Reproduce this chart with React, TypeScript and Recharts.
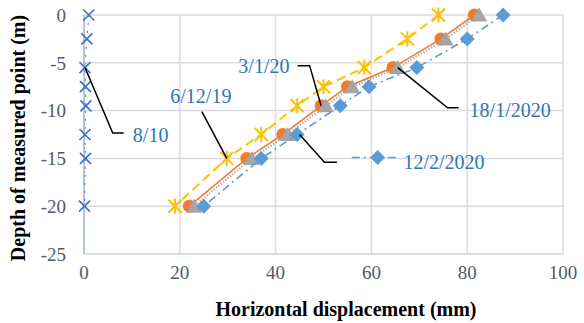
import { ScatterChart, Scatter, XAxis, YAxis, CartesianGrid } from "recharts";

// depth of each measuring point (m)
const depths = [0, -2.5, -5.5, -7.5, -9.5, -12.5, -15, -20];

// horizontal displacement (mm) per survey date
const s0810 = [1, 0.6, 0.2, 0.3, 0.4, 0.2, 0.3, 0.1];
const s061219 = [74, 67.5, 58.5, 50, 44.5, 37, 29.8, 19];
const s030120 = [81.5, 74.5, 64.5, 55, 49.5, 41.5, 34, 22];
const s180120 = [82.5, 75.5, 65.5, 56, 50.5, 42.5, 35, 23];
const s120220 = [87.5, 80, 69.5, 59.5, 53.5, 44.5, 37, 25];

const xTicks = [0, 20, 40, 60, 80, 100];
const yTicks = [0, -5, -10, -15, -20, -25];

// callout labels (data coords) and their leader lines
const labels = [
  { x: 10.2, y: -12.5, text: "8/10", anchor: "start" },
  { x: 24.4, y: -8.5, text: "6/12/19", anchor: "middle" },
  { x: 42.9, y: -5.3, text: "3/1/20", anchor: "end" },
  { x: 80.5, y: -9.9, text: "18/1/2020", anchor: "start" },
  { x: 66.7, y: -15.4, text: "12/2/2020", anchor: "start" },
];
const leaders = [
  [{ x: 0.2, y: -5.5 }, { x: 6.0, y: -12.35 }, { x: 8.3, y: -12.35 }],
  [{ x: 24.6, y: -10.1 }, { x: 29.8, y: -15 }],
  [{ x: 44.6, y: -5.3 }, { x: 47.1, y: -5.3 }, { x: 49.5, y: -9.5 }],
  [{ x: 65.5, y: -5.5 }, { x: 75.9, y: -9.7 }, { x: 78.2, y: -9.7 }],
  [{ x: 45, y: -12.5 }, { x: 50.2, y: -15.4 }, { x: 52.8, y: -15.4 }],
];
// small line+marker sample next to the 12/2/2020 callout
const sample = [
  { x: 55.9, y: -14.9, mark: false },
  { x: 61.3, y: -14.9, mark: true },
  { x: 65.9, y: -14.9, mark: false },
];

const toPoints = (xs: number[]) => depths.map((d, i) => ({ x: xs[i], y: d }));

const FONT = '"Liberation Serif", "Times New Roman", serif';
const TICK = "#505A6E";
const GRID = "#D9DCE3";
const LABEL = "#2E75B6";

const Cross = ({ cx, cy }: any) => (
  <path
    d={`M${cx - 5.5},${cy - 5.5}L${cx + 5.5},${cy + 5.5}M${cx - 5.5},${cy + 5.5}L${cx + 5.5},${cy - 5.5}`}
    stroke="#4472C4"
    strokeWidth={1.7}
  />
);

const Star = ({ cx, cy }: any) => (
  <path
    d={`M${cx - 6.5},${cy - 6.5}L${cx + 6.5},${cy + 6.5}M${cx - 6.5},${cy + 6.5}L${cx + 6.5},${cy - 6.5}M${cx},${cy - 7.5}L${cx},${cy + 7.5}`}
    stroke="#FFC000"
    strokeWidth={2}
  />
);

const Dot = ({ cx, cy }: any) => <circle cx={cx} cy={cy} r={6.5} fill="#ED7D31" />;

const Tri = ({ cx, cy }: any) => (
  <path d={`M${cx},${cy - 7.5}L${cx + 8},${cy + 6.5}L${cx - 8},${cy + 6.5}Z`} fill="#A5A5A5" />
);

const Diamond = ({ cx, cy }: any) => (
  <path d={`M${cx},${cy - 7.5}L${cx + 7.5},${cy}L${cx},${cy + 7.5}L${cx - 7.5},${cy}Z`} fill="#5B9BD5" />
);

const SampleMark = (props: any) =>
  props.payload && props.payload.mark ? <Diamond {...props} /> : <g />;

const Empty = () => <g />;

const LabelText = ({ cx, cy, payload }: any) => (
  <text
    x={cx}
    y={cy}
    textAnchor={payload.anchor}
    dominantBaseline="central"
    fontFamily={FONT}
    fontSize={20}
    fill={LABEL}
  >
    {payload.text}
  </text>
);

const XTitle = () => (
  <text x={346} y={316} textAnchor="middle" fontFamily={FONT} fontSize={20} fontWeight="bold" fill="#000">
    Horizontal displacement (mm)
  </text>
);

const YTitle = () => (
  <text
    x={18}
    y={138}
    transform="rotate(-90 18 138)"
    textAnchor="middle"
    dominantBaseline="central"
    fontFamily={FONT}
    fontSize={20}
    fontWeight="bold"
    fill="#000"
  >
    Depth of measured point (m)
  </text>
);

export default function App() {
  return (
    <div style={{ position: "absolute", left: 0, top: 0, background: "#fff" }}>
      <ScatterChart width={584} height={323} margin={{ top: 15, right: 21, bottom: 0, left: 0 }}>
        <CartesianGrid stroke={GRID} strokeWidth={1.5} />
        <XAxis
          type="number"
          dataKey="x"
          domain={[0, 100]}
          ticks={xTicks}
          height={69}
          axisLine={{ stroke: GRID, strokeWidth: 1.5 }}
          tickLine={false}
          tick={{ fontFamily: FONT, fontSize: 19, fill: TICK }}
          tickMargin={6}
          label={<XTitle />}
        />
        <YAxis
          type="number"
          dataKey="y"
          domain={[-25, 0]}
          ticks={yTicks}
          width={84}
          axisLine={{ stroke: "#A9BAD6", strokeWidth: 1.5 }}
          tickLine={false}
          tick={{ fontFamily: FONT, fontSize: 19, fill: TICK }}
          tickMargin={12}
          label={<YTitle />}
        />
        <Scatter
          name="8/10"
          data={toPoints(s0810)}
          line={{ stroke: "#4472C4", strokeWidth: 1, strokeDasharray: "2 6" }}
          shape={<Cross />}
          isAnimationActive={false}
        />
        <Scatter
          name="6/12/19"
          data={toPoints(s061219)}
          line={{ stroke: "#FFC000", strokeWidth: 2, strokeDasharray: "9 5" }}
          shape={<Star />}
          isAnimationActive={false}
        />
        <Scatter
          name="3/1/20"
          data={toPoints(s030120)}
          line={{ stroke: "#ED7D31", strokeWidth: 1.6 }}
          shape={<Dot />}
          isAnimationActive={false}
        />
        <Scatter
          name="18/1/2020"
          data={toPoints(s180120)}
          line={{ stroke: "#A5A5A5", strokeWidth: 2.2, strokeDasharray: "1.2 1.8" }}
          shape={<Tri />}
          isAnimationActive={false}
        />
        <Scatter
          name="12/2/2020"
          data={toPoints(s120220)}
          line={{ stroke: "#5B9BD5", strokeWidth: 1.6, strokeDasharray: "8 4 2 4" }}
          shape={<Diamond />}
          isAnimationActive={false}
        />
        <Scatter
          name="sample"
          data={sample}
          line={{ stroke: "#5B9BD5", strokeWidth: 1.6, strokeDasharray: "8 4 2 4" }}
          shape={<SampleMark />}
          isAnimationActive={false}
        />
        {leaders.map((pts, i) => (
          <Scatter
            key={"leader" + i}
            data={pts}
            line={{ stroke: "#000", strokeWidth: 1.5 }}
            shape={<Empty />}
            isAnimationActive={false}
          />
        ))}
        <Scatter name="labels" data={labels} shape={<LabelText />} isAnimationActive={false} />
      </ScatterChart>
    </div>
  );
}
